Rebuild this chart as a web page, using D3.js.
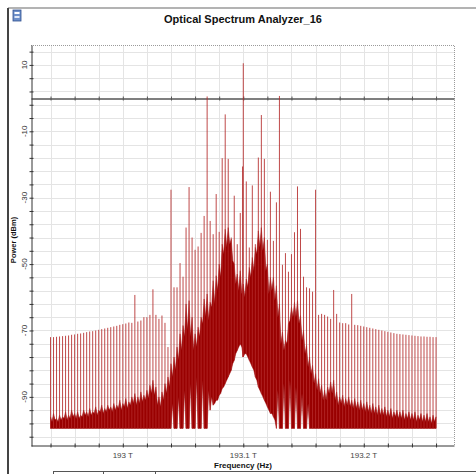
<!DOCTYPE html>
<html>
<head>
<meta charset="utf-8">
<script src="https://cdn.jsdelivr.net/npm/d3@7/dist/d3.min.js"></script>
<style>
  html, body { margin: 0; padding: 0; background: #ffffff; }
  svg { display: block; font-family: "Liberation Sans", Arial, sans-serif; }
</style>
</head>
<body>
<svg id="chart" width="476" height="474"></svg>
<script>
// ---- Spectrum data -------------------------------------------------------
// Carrier frequency (THz); comb lines and noise samples are offsets from it (GHz).
const centerTHz = 193.1;

const gridOffsetGHz = [
  -160, -157.5, -155, -152.5, -150, -147.5, -145, -142.5, -140, -137.5,
  -135, -132.5, -130, -127.5, -125, -122.5, -120, -117.5, -115, -112.5,
  -110, -107.5, -105, -102.5, -100, -97.5, -95, -92.5, -90, -87.5,
  -85, -82.5, -80, -77.5, -75, -72.5, -70, -67.5, -65, -62.5,
  -60, -57.5, -55, -52.5, -50, -47.5, -45, -42.5, -40, -37.5,
  -35, -32.5, -30, -27.5, -25, -22.5, -20, -17.5, -15, -12.5,
  -10, -7.5, -5, -2.5,
  0,
  2.5, 5, 7.5, 10, 12.5, 15, 17.5, 20, 22.5, 25,
  27.5, 30, 32.5, 35, 37.5, 40, 42.5, 45, 47.5, 50,
  52.5, 55, 57.5, 60, 62.5, 65, 67.5, 70, 72.5, 75,
  77.5, 80, 82.5, 85, 87.5, 90, 92.5, 95, 97.5, 100,
  102.5, 105, 107.5, 110, 112.5, 115, 117.5, 120, 122.5, 125,
  127.5, 130, 132.5, 135, 137.5, 140, 142.5, 145, 147.5, 150,
  152.5, 155, 157.5, 160
];

// Peak power of each comb line (dBm)
const combPeakDbm = [
  -72.0, -72.0, -71.9, -71.8, -71.7, -71.6, -71.5, -71.3, -71.2, -71.0,
  -70.9, -70.7, -70.5, -70.3, -70.2, -70.0, -69.8, -69.6, -69.4, -69.2,
  -69.0, -68.8, -68.6, -68.3, -68.1, -67.9, -67.6, -67.7, -59.3, -67.3,
  -67.0, -66.0, -66.0, -65.3, -57.6, -65.3, -66.5, -65.5, -67.7, -75.0,
  -27.6, -57.0, -57.0, -49.7, -53.8, -39.0, -26.8, -42.0, -45.7, -44.7,
  -40.6, -35.5, 0.5, -37.0, -41.0, -28.9, -40.3, -18.1, -4.9, -18.3,
  -42.0, -29.4, -44.0, -34.6,
  10.5,
  -25.1, -45.0, -26.3, -44.0, -17.9, -5.1, -18.3, -42.7, -28.2, -43.0,
  -31.4, 0.65, -50.2, -46.7, -52.3, -47.0, -40.4, -26.6, -39.4, -53.8,
  -57.0, -57.3, -58.3, -27.6, -65.3, -65.0, -65.3, -65.8, -66.5, -57.8,
  -65.0, -67.6, -67.8, -67.8, -68.2, -59.0, -68.3, -68.4, -68.6, -68.8,
  -69.0, -69.2, -69.4, -69.6, -69.8, -70.0, -70.2, -70.4, -70.6, -70.8,
  -71.0, -71.1, -71.2, -71.3, -71.4, -71.5, -71.6, -71.7, -71.8, -71.8,
  -71.9, -71.9, -72.0, -72.0
];

// Noise band at the comb positions: upper and lower edge (dBm)
const noiseTopDbm = [
  -96, -95, -96.5, -95.5, -96, -94.5, -95.5, -94, -95, -94.5,
  -95.5, -94, -94.5, -93.5, -94.5, -93, -94, -92.5, -93.5, -92.5,
  -93, -92, -92.5, -91, -92, -90.5, -91.5, -90, -89, -90,
  -88.5, -89.5, -88, -86.5, -85, -87, -90, -88.5, -86, -84,
  -80, -78, -75, -71, -68.5, -62, -61, -66, -71, -69,
  -66, -60.5, -59, -61.5, -55, -53.5, -50, -44, -39.5, -39,
  -42.5, -50, -53, -52,
  -56,
  -54.5, -51, -48, -45, -40, -39, -42, -50, -54, -54,
  -56.5, -62, -70.5, -73, -68, -63, -61.5, -61, -65.5, -70,
  -74.5, -78, -80.5, -83, -84.5, -86.5, -88, -87, -85.5, -85,
  -88.5, -90, -89.5, -90.5, -90, -91, -90.5, -91.5, -91, -92,
  -91.5, -92.5, -92, -93, -92.5, -93.5, -93, -94, -93.5, -94.5,
  -94, -94.5, -94, -95, -94.5, -95, -94.5, -95.5, -95, -95.5,
  -95, -96, -95.5, -96
];

const noiseBottomDbm = [
  -99.5, -99.5, -99.5, -99.5, -99.5, -99.5, -99.5, -99.5, -99.5, -99.5,
  -99.5, -99.5, -99.5, -99.5, -99.5, -99.5, -99.5, -99.5, -99.5, -99.5,
  -99.5, -99.5, -99.5, -99.5, -99.5, -99.5, -99.5, -99.5, -99.5, -99.5,
  -99.5, -99.5, -99.5, -99.5, -99.5, -99.5, -99.5, -99.5, -99.5, -99.5,
  -99.5, -99.5, -99.5, -99.5, -99.5, -99.5, -99.5, -99.5, -99.5, -99.5,
  -99.5, -99.5, -99.5, -94, -92.5, -91, -89.5, -87.5, -86, -84,
  -82, -79, -76, -74,
  -78,
  -77, -79, -81, -84, -87, -89, -91, -93, -95, -96,
  -99.5, -99.5, -99.5, -99.5, -99.5, -99.5, -99.5, -99.5, -99.5, -99.5,
  -99.5, -99.5, -99.5, -99.5, -99.5, -99.5, -99.5, -99.5, -99.5, -99.5,
  -99.5, -99.5, -99.5, -99.5, -99.5, -99.5, -99.5, -99.5, -99.5, -99.5,
  -99.5, -99.5, -99.5, -99.5, -99.5, -99.5, -99.5, -99.5, -99.5, -99.5,
  -99.5, -99.5, -99.5, -99.5, -99.5, -99.5, -99.5, -99.5, -99.5, -99.5,
  -99.5, -99.5, -99.5, -99.5
];

// Noise band halfway between neighbouring comb positions: upper and lower edge (dBm)
const valleyTopDbm = [
  -97.5, -97, -97.5, -97, -96.5, -97, -96.5, -96, -96.5, -96.5,
  -96, -95.5, -96, -95.5, -95, -95.5, -94.5, -95, -94.5, -94,
  -94.5, -94, -93.5, -94, -93, -93.5, -92.5, -92,
  -92.5, -92, -91.5, -91, -90.5, -89, -89.5, -92.5, -93, -91,
  -89, -87, -84, -82, -79, -76, -72, -70, -72, -76,
  -75, -72, -68, -66, -67, -63, -62, -58, -54, -47,
  -45, -44, -49, -56, -58, -59,
  -60, -57, -54, -52, -47, -45, -46, -52, -59, -58,
  -61, -66, -74, -76, -74, -67, -66, -66, -68, -73,
  -77, -81, -83, -86, -88, -89, -91, -91, -89, -89,
  -91, -92.5, -92, -93, -92.5, -93, -93.5, -93.5, -94, -94,
  -94.5, -94.5, -95, -95, -95.5, -95.5, -95.5, -96, -96, -96.5,
  -96, -96.5, -96.5, -97, -96.5, -97, -97, -97.5, -97, -97.5,
  -97.5, -97.5, -98, -97.5
];

const valleyBottomDbm = [
  -99.5, -99.5, -99.5, -99.5, -99.5, -99.5, -99.5, -99.5, -99.5, -99.5,
  -99.5, -99.5, -99.5, -99.5, -99.5, -99.5, -99.5, -99.5, -99.5, -99.5,
  -99.5, -99.5, -99.5, -99.5, -99.5, -99.5, -99.5, -99.5,
  -99.5, -99.5, -99.5, -99.5, -99.5, -99.5, -99.5, -99.5, -99.5, -99.5,
  -99.5, -99.5, -92, -99.5, -90, -99.5, -88, -99.5, -86, -99.5,
  -84, -99.5, -85, -99.5, -88, -90, -92, -91, -89, -87,
  -85, -83, -80, -77, -75, -75,
  -77, -78, -80, -82, -85, -88, -90, -92, -94, -95,
  -97, -88, -99.5, -86, -99.5, -85, -99.5, -87, -99.5, -89,
  -99.5, -92, -99.5, -99.5, -99.5, -99.5, -99.5, -99.5, -99.5, -99.5,
  -99.5, -99.5, -99.5, -99.5, -99.5, -99.5, -99.5, -99.5, -99.5, -99.5,
  -99.5, -99.5, -99.5, -99.5, -99.5, -99.5, -99.5, -99.5, -99.5, -99.5,
  -99.5, -99.5, -99.5, -99.5, -99.5, -99.5, -99.5, -99.5, -99.5, -99.5,
  -99.5, -99.5, -99.5, -99.5
];

// Narrow noise spike right beside the carrier
const spikeOffsetGHz = [-0.6];
const spikeDbm = [-20.6];

// Axis labels
const xTickValues = [193.0, 193.1, 193.2];
const xTickLabels = ["193 T", "193.1 T", "193.2 T"];
const yTickValues = [10, -10, -30, -50, -70, -90];

// ---- Layout ---------------------------------------------------------------
const W = 476, H = 474;
const plot = { left: 31, right: 454, top: 45, bottom: 446 };

const svg = d3.select("#chart");

const x = d3.scaleLinear().domain([192.9238, 193.2749]).range([plot.left, plot.right]);
const y = d3.scaleLinear().domain([16, -104.8]).range([plot.top, plot.bottom]);
const fx = g => x(centerTHz + g / 1000);

// window frame
svg.append("rect").attr("x", 0).attr("y", 0).attr("width", W).attr("height", H).attr("fill", "#ffffff");
svg.append("line").attr("x1", 8).attr("x2", W).attr("y1", 8).attr("y2", 8)
  .attr("stroke", "#9a9a9a").attr("stroke-width", 1.5);
svg.append("line").attr("x1", 8).attr("x2", 8).attr("y1", 8).attr("y2", H)
  .attr("stroke", "#444").attr("stroke-width", 2);

// window icon
const icon = svg.append("g").attr("transform", "translate(13,10)");
icon.append("rect").attr("width", 8).attr("height", 11).attr("fill", "#6d8fc9").attr("stroke", "#2f4f8f").attr("stroke-width", 0.8);
icon.append("rect").attr("x", 1.5).attr("y", 2).attr("width", 5).attr("height", 2).attr("fill", "#ffffff");
icon.append("rect").attr("x", 1.5).attr("y", 6).attr("width", 5).attr("height", 2).attr("fill", "#dfe8f7");

// bottom tab strip
svg.append("line").attr("x1", 53).attr("x2", W).attr("y1", 471.5).attr("y2", 471.5)
  .attr("stroke", "#555").attr("stroke-width", 1);
[53, 103, 155].forEach(px => {
  svg.append("line").attr("x1", px + 0.5).attr("x2", px + 0.5).attr("y1", 471.5).attr("y2", H)
    .attr("stroke", "#555").attr("stroke-width", 1);
});

// title
svg.append("text").attr("x", 243).attr("y", 23).attr("text-anchor", "middle")
  .attr("font-size", 11).attr("font-weight", "bold").attr("fill", "#111")
  .text("Optical Spectrum Analyzer_16");

// grid
const xGrid = d3.range(192.94, 193.2601, 0.02);
const yGrid = d3.range(14, -103, -4);
const grid = svg.append("g");
grid.selectAll("line.v").data(xGrid).join("line")
  .attr("x1", d => Math.round(x(d)) + 0.5).attr("x2", d => Math.round(x(d)) + 0.5)
  .attr("y1", plot.top).attr("y2", plot.bottom)
  .attr("stroke", "#e4e4e4").attr("stroke-width", 1);
grid.selectAll("line.h").data(yGrid).join("line")
  .attr("x1", plot.left).attr("x2", plot.right)
  .attr("y1", d => Math.round(y(d)) + 0.5).attr("y2", d => Math.round(y(d)) + 0.5)
  .attr("stroke", "#e4e4e4").attr("stroke-width", 1);

// dotted top/right frame of the plot
svg.append("path")
  .attr("d", `M${plot.left},${plot.top + 0.5}H${plot.right + 0.5}V${plot.bottom}`)
  .attr("fill", "none").attr("stroke", "#9a9a9a").attr("stroke-width", 1)
  .attr("stroke-dasharray", "1,1");

// 0 dBm reference axis
const zeroAxis = svg.append("g")
  .attr("transform", `translate(0,${Math.round(y(0)) + 0.5})`)
  .call(d3.axisBottom(x).tickValues(xGrid).tickSize(2).tickSizeOuter(0).tickFormat(""));
zeroAxis.select(".domain").attr("stroke", "#555").attr("stroke-width", 1.5);
zeroAxis.selectAll(".tick line").attr("y1", -2).attr("stroke", "#555");

// ---- Spectrum --------------------------------------------------------------
// noise band: comb positions interleaved with the half-way samples
const noise = [];
gridOffsetGHz.forEach((g, i) => {
  noise.push({ g, top: noiseTopDbm[i], bottom: noiseBottomDbm[i] });
  if (i < valleyTopDbm.length) {
    noise.push({ g: (g + gridOffsetGHz[i + 1]) / 2, top: valleyTopDbm[i], bottom: valleyBottomDbm[i] });
  }
});
svg.append("path")
  .datum(noise)
  .attr("fill", "#990000")
  .attr("stroke", "#990000")
  .attr("stroke-width", 0.5)
  .attr("stroke-linejoin", "miter")
  .attr("d", d3.area()
    .x(d => fx(d.g))
    .y0(d => y(d.bottom))
    .y1(d => y(d.top)));

const comb = gridOffsetGHz.map((g, i) => ({ g, peak: combPeakDbm[i], base: noiseBottomDbm[i] }));
spikeOffsetGHz.forEach((g, i) => comb.push({ g, peak: spikeDbm[i], base: -78 }));

svg.append("g").selectAll("line").data(comb).join("line")
  .attr("x1", d => fx(d.g)).attr("x2", d => fx(d.g))
  .attr("y1", d => y(d.base)).attr("y2", d => y(d.peak))
  .attr("stroke", "#b32828").attr("stroke-width", 0.85);

// ---- Axes --------------------------------------------------------------------
// left axis
const leftAxis = svg.append("g")
  .attr("transform", `translate(${plot.left + 0.5},0)`)
  .call(d3.axisLeft(y).tickValues(yGrid).tickSize(2).tickSizeOuter(0).tickFormat(""));
leftAxis.select(".domain").attr("stroke", "#333");
leftAxis.selectAll(".tick line").attr("x1", 2).attr("stroke", "#333");

svg.append("g").selectAll("text").data(yTickValues).join("text")
  .attr("transform", d => `translate(27,${y(d)}) rotate(-90)`)
  .attr("text-anchor", "middle")
  .attr("font-size", 8).attr("fill", "#333")
  .text(d => d);

svg.append("text")
  .attr("transform", `translate(16,240) rotate(-90)`)
  .attr("text-anchor", "middle")
  .attr("font-size", 7.5).attr("font-weight", "bold").attr("fill", "#111")
  .text("Power (dBm)");

// bottom axis
const bottomAxis = svg.append("g")
  .attr("transform", `translate(0,${plot.bottom - 0.5})`)
  .call(d3.axisBottom(x).tickValues(xGrid).tickSize(2).tickSizeOuter(0).tickFormat(""));
bottomAxis.select(".domain").attr("stroke", "#333");
bottomAxis.selectAll(".tick line").attr("y1", -2).attr("stroke", "#333");

svg.append("g").selectAll("text").data(xTickValues).join("text")
  .attr("x", d => x(d)).attr("y", 458)
  .attr("text-anchor", "middle")
  .attr("font-size", 8).attr("fill", "#444")
  .text((d, i) => xTickLabels[i]);

svg.append("text")
  .attr("x", 243).attr("y", 467.5).attr("text-anchor", "middle")
  .attr("font-size", 8).attr("font-weight", "bold").attr("fill", "#111")
  .text("Frequency (Hz)");
</script>
</body>
</html>
